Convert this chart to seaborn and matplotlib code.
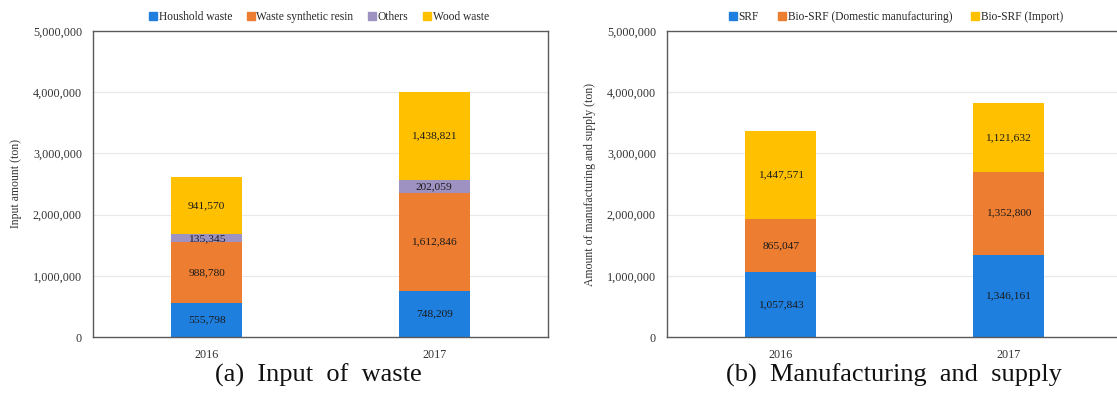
import matplotlib
matplotlib.use("Agg")
import matplotlib.pyplot as plt
import seaborn as sns
import pandas as pd
import numpy as np
from matplotlib.ticker import FuncFormatter, MultipleLocator
from matplotlib.lines import Line2D

# ---- data ----
years = ["2016", "2017"]

waste_series = ["Houshold waste", "Waste synthetic resin", "Others", "Wood waste"]
household_waste = [555798, 748209]
synthetic_resin = [988780, 1612846]
others = [135345, 202059]
wood_waste = [941570, 1438821]

supply_series = ["SRF", "Bio-SRF (Domestic manufacturing)", "Bio-SRF (Import)"]
srf = [1057843, 1346161]
bio_srf_domestic = [865047, 1352800]
bio_srf_import = [1447571, 1121632]

captions = ["(a)  Input  of  waste", "(b)  Manufacturing  and  supply"]
ylabels = ["Input amount (ton)", "Amount of manufacturing and supply (ton)"]

BLUE = "#1F7FDF"
ORANGE = "#ED7D31"
PURPLE = "#9E92C2"
YELLOW = "#FFC000"

sns.set_theme(style="white")
plt.rcParams["font.family"] = ["Liberation Serif", "DejaVu Serif"]

W, H = 1117, 394
fig = plt.figure(figsize=(W / 100, H / 100), dpi=100)


def px_axes(x0, x1, y_top, y_bot):
    return fig.add_axes([x0 / W, 1 - y_bot / H, (x1 - x0) / W, (y_bot - y_top) / H])


ax1 = px_axes(93, 548, 31, 337)
ax2 = px_axes(667, 1122, 31, 337)


def stacked(ax, layers, colors):
    # stack layers: draw cumulative totals from the top layer down
    cum = np.cumsum(np.array(layers, dtype=float), axis=0)
    for i in range(len(layers) - 1, -1, -1):
        df = pd.DataFrame({"year": years, "value": cum[i]})
        sns.barplot(data=df, x="year", y="value", order=years, color=colors[i],
                    width=0.31, saturation=1, ax=ax, linewidth=0, errorbar=None)
    # value labels in the middle of each segment
    for i, layer in enumerate(layers):
        for j, v in enumerate(layer):
            mid = cum[i][j] - v / 2
            ax.text(j, mid, f"{v:,}", ha="center", va="center", fontsize=8.2,
                    color="#1a1a1a")
    ax.set_xlim(-0.5, 1.5)
    ax.set_ylim(0, 5000000)
    ax.yaxis.set_major_locator(MultipleLocator(1000000))
    ax.yaxis.set_major_formatter(FuncFormatter(lambda v, p: f"{int(v):,}"))
    ax.grid(axis="y", color="#e8e8e8", linewidth=0.8)
    ax.set_axisbelow(True)
    ax.tick_params(axis="both", length=0, labelsize=8.7, colors="#333333")
    ax.tick_params(axis="y", pad=8)
    ax.tick_params(axis="x", pad=9)
    ax.set_xlabel("")
    for s in ax.spines.values():
        s.set_color("#5a5a5a")
        s.set_linewidth(1.0)
    handles = [Line2D([], [], marker="s", linestyle="none", markersize=5.5,
                      markerfacecolor=c, markeredgecolor=c) for c in colors]
    return handles


h1 = stacked(ax1, [household_waste, synthetic_resin, others, wood_waste],
             [BLUE, ORANGE, PURPLE, YELLOW])
ax1.set_ylabel(ylabels[0], fontsize=8.5, color="#333333", labelpad=8)
ax1.legend(h1, waste_series, loc="center", bbox_to_anchor=(318 / W, 1 - 17 / H),
           bbox_transform=fig.transFigure, ncol=4, frameon=False, fontsize=8.3,
           handletextpad=0.0, columnspacing=1.1, handlelength=1.0, borderaxespad=0)

h2 = stacked(ax2, [srf, bio_srf_domestic, bio_srf_import],
             [BLUE, ORANGE, YELLOW])
ax2.set_ylabel(ylabels[1], fontsize=8.5, color="#333333", labelpad=8)
ax2.legend(h2, supply_series, loc="center", bbox_to_anchor=(895 / W, 1 - 17 / H),
           bbox_transform=fig.transFigure, ncol=3, frameon=False, fontsize=8.3,
           handletextpad=0.0, columnspacing=1.5, handlelength=1.0, borderaxespad=0)

fig.text(318 / W, 1 - 375 / H, captions[0], ha="center", va="center", fontsize=19,
         color="#111111")
fig.text(894 / W, 1 - 375 / H, captions[1], ha="center", va="center", fontsize=19,
         color="#111111")

fig.savefig("out.png", dpi=100)
